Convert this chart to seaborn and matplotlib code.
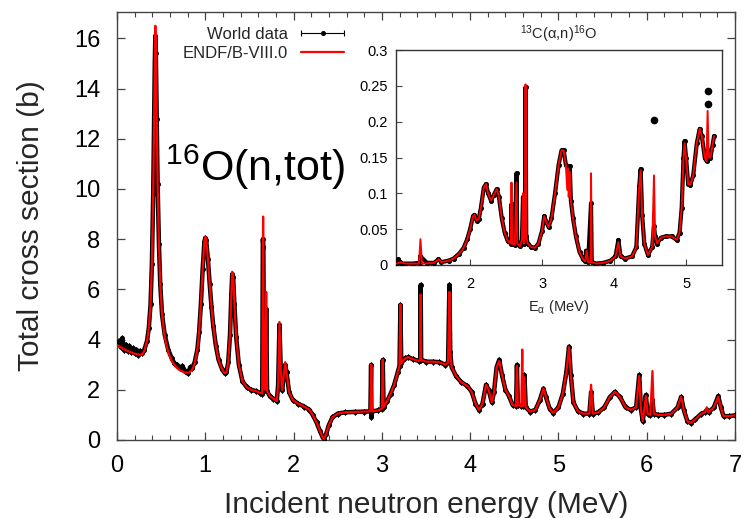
import matplotlib
matplotlib.use("Agg")
import matplotlib.pyplot as plt
import seaborn as sns
import numpy as np
from matplotlib.container import ErrorbarContainer
from matplotlib.legend_handler import HandlerErrorbar

# ---------------- main panel: 16O(n,tot) ----------------
endf_E = [0.00, 0.05, 0.10, 0.15, 0.20, 0.25, 0.28, 0.31, 0.34, 0.36, 0.38, 0.395, 0.41, 0.42, 0.428,
          0.434, 0.44, 0.45, 0.46, 0.475, 0.49, 0.51, 0.54, 0.58, 0.62, 0.67, 0.72, 0.77, 0.81, 0.85,
          0.88, 0.91, 0.93, 0.95, 0.97, 0.99, 1.00, 1.01, 1.03, 1.05, 1.07, 1.09, 1.12, 1.15, 1.19,
          1.22, 1.24, 1.26, 1.28, 1.295, 1.305, 1.315, 1.33, 1.35, 1.38, 1.42, 1.47, 1.52, 1.57, 1.62,
          1.645, 1.655, 1.665, 1.68, 1.69, 1.70, 1.73, 1.77, 1.81, 1.825, 1.84, 1.855, 1.87, 1.89, 1.905,
          1.92, 1.95, 1.99, 2.05, 2.12, 2.18, 2.22, 2.26, 2.30, 2.33, 2.345, 2.37, 2.40, 2.44, 2.50,
          2.58, 2.70, 2.80, 2.87, 2.88, 2.89, 2.96, 3.00, 3.01, 3.02, 3.06, 3.10, 3.14, 3.18, 3.20,
          3.21, 3.22, 3.26, 3.30, 3.35, 3.42, 3.435, 3.44, 3.445, 3.50, 3.58, 3.65, 3.72, 3.75, 3.765,
          3.775, 3.79, 3.84, 3.90, 3.97, 4.02, 4.06, 4.10, 4.14, 4.18, 4.21, 4.245, 4.27, 4.30, 4.33,
          4.36, 4.40, 4.44, 4.48, 4.52, 4.53, 4.54, 4.58, 4.59, 4.60, 4.615, 4.63, 4.68, 4.74, 4.79,
          4.83, 4.86, 4.90, 4.94, 5.00, 5.05, 5.09, 5.12, 5.14, 5.17, 5.22, 5.28, 5.35, 5.37, 5.39,
          5.45, 5.52, 5.58, 5.64, 5.70, 5.76, 5.82, 5.88, 5.915, 5.935, 5.955, 5.975, 5.99, 6.01, 6.04,
          6.065, 6.08, 6.13, 6.20, 6.28, 6.35, 6.39, 6.42, 6.46, 6.50, 6.55, 6.62, 6.66, 6.68, 6.70,
          6.76, 6.81, 6.84, 6.87, 6.93, 7.00]
endf_xs = [3.78, 3.68, 3.58, 3.50, 3.44, 3.40, 3.40, 3.55, 3.95, 4.45, 5.4, 7.0, 9.8, 12.6, 15.0,
           16.5, 15.6, 12.8, 10.2, 7.8, 6.2, 5.0, 4.1, 3.5, 3.15, 2.9, 2.76, 2.68, 2.68, 2.78,
           3.05, 3.6, 4.3, 5.4, 6.8, 7.9, 8.1, 8.0, 7.2, 6.2, 5.3, 4.55, 3.75, 3.2, 2.82,
           2.66, 2.7, 3.1, 4.2, 5.8, 6.7, 6.6, 5.4, 4.1, 3.0, 2.35, 2.1, 2.0, 1.95, 1.88,
           1.85, 8.9, 2.1, 2.0, 5.9, 1.95, 1.75, 1.65, 1.55, 2.2, 4.7, 2.8, 2.0, 2.6, 3.1,
           2.7, 1.9, 1.6, 1.45, 1.33, 1.2, 0.98, 0.7, 0.35, 0.1, 0.05, 0.25, 0.6, 0.9, 1.05,
           1.1, 1.12, 1.13, 1.14, 3.0, 1.14, 1.18, 1.25, 3.2, 1.3, 1.55, 1.85, 2.2, 2.7, 2.95,
           5.4, 3.05, 3.25, 3.3, 3.22, 3.15, 3.2, 5.8, 3.2, 3.12, 3.12, 3.1, 3.0, 3.1, 5.9,
           3.5, 2.9, 2.55, 2.3, 2.15, 1.9, 1.45, 1.2, 1.45, 2.2, 2.0, 1.5, 1.9, 2.9, 3.15,
           2.6, 2.0, 1.75, 1.4, 1.35, 2.95, 1.4, 1.35, 3.6, 1.35, 2.5, 1.3, 1.13, 1.2, 1.6,
           2.05, 1.7, 1.25, 1.08, 1.3, 1.85, 2.7, 3.7, 2.6, 1.5, 1.15, 1.05, 1.05, 2.2, 1.05,
           1.1, 1.3, 1.7, 1.92, 1.7, 1.3, 1.2, 1.3, 2.55, 1.2, 0.75, 1.3, 1.75, 1.05, 1.0,
           2.75, 1.05, 1.0, 1.0, 1.05, 1.3, 1.72, 1.2, 0.75, 0.68, 0.82, 1.05, 1.1, 1.3, 1.1,
           1.3, 1.72, 1.3, 0.95, 0.95, 0.98]

world_E = [0.00, 0.02, 0.04, 0.06, 0.08, 0.10, 0.12, 0.14, 0.16, 0.18, 0.20, 0.22, 0.24, 0.26, 0.28,
           0.31, 0.34, 0.36, 0.38, 0.395, 0.41, 0.42, 0.428, 0.434, 0.44, 0.45, 0.46, 0.475, 0.49,
           0.51, 0.54, 0.58, 0.62, 0.65, 0.68, 0.71, 0.74, 0.77, 0.80, 0.83, 0.85, 0.88, 0.91, 0.93,
           0.95, 0.97, 0.99, 1.00, 1.01, 1.03, 1.05, 1.07, 1.09, 1.12, 1.15, 1.19, 1.22, 1.24, 1.26,
           1.28, 1.295, 1.305, 1.315, 1.33, 1.35, 1.38, 1.42, 1.47, 1.52, 1.57, 1.62, 1.645, 1.652,
           1.658, 1.665, 1.68, 1.69, 1.70, 1.73, 1.77, 1.81, 1.825, 1.84, 1.855, 1.87, 1.89, 1.905,
           1.92, 1.95, 1.99, 2.05, 2.12, 2.18, 2.22, 2.26, 2.30, 2.33, 2.345, 2.37, 2.40, 2.44, 2.50,
           2.58, 2.70, 2.80, 2.87, 2.878, 2.882, 2.89, 2.96, 3.00, 3.01, 3.02, 3.06, 3.10, 3.14, 3.18,
           3.20, 3.21, 3.22, 3.26, 3.30, 3.35, 3.42, 3.435, 3.44, 3.445, 3.50, 3.58, 3.65, 3.72, 3.75,
           3.765, 3.775, 3.79, 3.84, 3.90, 3.97, 4.02, 4.06, 4.10, 4.14, 4.18, 4.21, 4.245, 4.27, 4.30,
           4.33, 4.36, 4.40, 4.44, 4.48, 4.52, 4.53, 4.54, 4.58, 4.60, 4.615, 4.63, 4.68, 4.74, 4.79,
           4.83, 4.86, 4.90, 4.94, 5.00, 5.05, 5.09, 5.12, 5.14, 5.17, 5.22, 5.28, 5.35, 5.37, 5.39,
           5.45, 5.52, 5.58, 5.64, 5.70, 5.76, 5.82, 5.88, 5.915, 5.935, 5.955, 5.975, 5.99, 6.01, 6.04,
           6.065, 6.08, 6.13, 6.20, 6.28, 6.35, 6.39, 6.42, 6.46, 6.50, 6.55, 6.62, 6.66, 6.68, 6.70,
           6.76, 6.81, 6.84, 6.87, 6.93, 7.00]
world_xs = [3.85, 3.95, 3.70, 4.05, 3.60, 3.80, 3.55, 3.75, 3.50, 3.65, 3.45, 3.60, 3.40, 3.55, 3.45,
            3.60, 3.95, 4.45, 5.4, 7.0, 9.8, 12.6, 15.0, 16.1, 15.4, 12.8, 10.2, 7.8, 6.2,
            5.0, 4.2, 3.6, 3.25, 3.05, 3.0, 2.85, 2.95, 2.75, 2.65, 2.9, 2.85, 3.1, 3.6, 4.3,
            5.4, 6.8, 7.9, 8.05, 7.95, 7.2, 6.2, 5.3, 4.55, 3.75, 3.2, 2.82, 2.66, 2.7, 3.1,
            4.2, 5.8, 6.6, 6.5, 5.4, 4.1, 3.0, 2.35, 2.1, 2.0, 1.95, 1.88, 1.85, 8.0,
            7.7, 2.1, 2.0, 5.2, 1.95, 1.75, 1.65, 1.55, 2.2, 4.6, 2.8, 2.0, 2.6, 3.0,
            2.7, 1.9, 1.6, 1.45, 1.33, 1.2, 0.98, 0.7, 0.35, 0.1, 0.05, 0.25, 0.6, 0.9, 1.05,
            1.1, 1.12, 1.13, 1.14, 2.99, 0.93, 1.14, 1.18, 1.25, 3.19, 1.3, 1.55, 1.85, 2.2, 2.7,
            2.95, 5.38, 3.05, 3.25, 3.3, 3.22, 3.15, 3.2, 6.18, 3.2, 3.12, 3.12, 3.1, 3.0, 3.1,
            6.18, 3.5, 2.9, 2.55, 2.3, 2.15, 1.9, 1.45, 1.2, 1.45, 2.2, 2.0, 1.5, 1.9, 2.9,
            3.2, 2.6, 2.0, 1.75, 1.4, 1.35, 2.99, 1.4, 1.35, 1.35, 2.59, 1.3, 1.13, 1.2, 1.6,
            2.05, 1.7, 1.25, 1.08, 1.3, 1.85, 2.7, 3.72, 2.6, 1.5, 1.15, 1.05, 1.05, 1.9, 1.05,
            1.1, 1.3, 1.7, 1.92, 1.7, 1.3, 1.2, 1.3, 2.59, 1.2, 0.75, 1.3, 1.79, 1.05, 1.0,
            1.6, 1.05, 1.0, 1.0, 1.05, 1.3, 1.72, 1.2, 0.75, 0.68, 0.82, 1.05, 1.1, 1.2, 1.1,
            1.3, 1.75, 1.3, 0.95, 0.95, 0.98]

# ---------------- inset: 13C(alpha,n)16O ----------------
in_endf_E = [0.98, 1.03, 1.10, 1.29, 1.31, 1.33, 1.50, 1.56, 1.60, 1.70, 1.77, 1.85, 1.91, 1.96,
             2.00, 2.04, 2.06, 2.09, 2.12, 2.15, 2.19, 2.22, 2.25, 2.29, 2.33, 2.37, 2.40, 2.44,
             2.48, 2.52, 2.565, 2.575, 2.585, 2.62, 2.645, 2.655, 2.69, 2.72, 2.735, 2.745, 2.76,
             2.77, 2.78, 2.80, 2.85, 2.90, 2.95, 3.00, 3.03, 3.06, 3.09, 3.13, 3.18, 3.23, 3.27,
             3.30, 3.33, 3.35, 3.36, 3.37, 3.385, 3.40, 3.43, 3.47, 3.52, 3.57, 3.60, 3.62, 3.64,
             3.675, 3.68, 3.69, 3.75, 3.85, 3.95, 4.02, 4.06, 4.09, 4.15, 4.25, 4.31, 4.35, 4.37,
             4.39, 4.42, 4.47, 4.53, 4.555, 4.57, 4.60, 4.65, 4.72, 4.80, 4.87, 4.91, 4.94, 4.965,
             4.98, 5.00, 5.03, 5.06, 5.10, 5.15, 5.19, 5.22, 5.26, 5.285, 5.30, 5.315, 5.34, 5.37,
             5.39]
in_endf_xs = [0.002, 0.004, 0.002, 0.002, 0.036, 0.002, 0.003, 0.008, 0.004, 0.006, 0.009, 0.016,
              0.024, 0.036, 0.050, 0.068, 0.070, 0.062, 0.064, 0.080, 0.108, 0.113, 0.100, 0.090,
              0.098, 0.106, 0.095, 0.065, 0.045, 0.034, 0.030, 0.115, 0.030, 0.028, 0.115, 0.030,
              0.026, 0.035, 0.100, 0.030, 0.040, 0.252, 0.040, 0.030, 0.025, 0.024, 0.030, 0.048,
              0.068, 0.060, 0.053, 0.065, 0.100, 0.140, 0.160, 0.160, 0.140, 0.105, 0.135, 0.095,
              0.130, 0.090, 0.065, 0.040, 0.018, 0.008, 0.005, 0.020, 0.004, 0.004, 0.128, 0.004,
              0.002, 0.003, 0.006, 0.012, 0.032, 0.012, 0.009, 0.012, 0.025, 0.110, 0.132, 0.070,
              0.030, 0.014, 0.025, 0.125, 0.040, 0.030, 0.038, 0.040, 0.040, 0.035, 0.045, 0.080,
              0.150, 0.170, 0.150, 0.113, 0.112, 0.125, 0.170, 0.190, 0.180, 0.150, 0.145, 0.215,
              0.150, 0.150, 0.168, 0.180]

in_world_E = [0.98, 1.00, 1.03, 1.06, 1.10, 1.20, 1.30, 1.31, 1.40, 1.50, 1.56, 1.60, 1.70, 1.77,
              1.85, 1.91, 1.96, 2.00, 2.04, 2.06, 2.09, 2.12, 2.15, 2.19, 2.22, 2.25, 2.29, 2.33,
              2.37, 2.40, 2.44, 2.48, 2.52, 2.565, 2.575, 2.585, 2.62, 2.645, 2.655, 2.69, 2.72,
              2.735, 2.745, 2.76, 2.77, 2.78, 2.80, 2.85, 2.90, 2.95, 3.00, 3.03, 3.06, 3.09, 3.13,
              3.18, 3.23, 3.27, 3.30, 3.33, 3.36, 3.385, 3.40, 3.43, 3.47, 3.52, 3.57, 3.60, 3.61,
              3.64, 3.68, 3.69, 3.75, 3.85, 3.95, 4.02, 4.06, 4.09, 4.15, 4.25, 4.31, 4.35, 4.37,
              4.39, 4.42, 4.47, 4.53, 4.555, 4.57, 4.60, 4.65, 4.72, 4.80, 4.87, 4.91, 4.94,
              4.965, 4.98, 5.00, 5.03, 5.06, 5.10, 5.15, 5.19, 5.22, 5.26, 5.285, 5.30,
              5.315, 5.34, 5.37, 5.39]
in_world_xs = [0.003, 0.008, 0.004, 0.002, 0.002, 0.002, 0.003, 0.012, 0.003, 0.003, 0.008, 0.004,
               0.006, 0.009, 0.016, 0.024, 0.036, 0.050, 0.068, 0.070, 0.062, 0.064, 0.080, 0.108,
               0.113, 0.100, 0.090, 0.098, 0.106, 0.095, 0.065, 0.045, 0.034, 0.030, 0.085, 0.030,
               0.028, 0.128, 0.030, 0.026, 0.035, 0.095, 0.030, 0.040, 0.248, 0.040, 0.030, 0.025,
               0.024, 0.030, 0.048, 0.068, 0.060, 0.053, 0.065, 0.100, 0.140, 0.160, 0.160, 0.140,
               0.135, 0.138, 0.090, 0.065, 0.040, 0.018, 0.008, 0.005, 0.020, 0.004, 0.086, 0.004,
               0.002, 0.003, 0.006, 0.012, 0.035, 0.012, 0.009, 0.012, 0.025, 0.110, 0.134, 0.070,
               0.030, 0.014, 0.025, 0.055, 0.040, 0.030, 0.038, 0.040, 0.040, 0.035, 0.045,
               0.080, 0.150, 0.173, 0.150, 0.113, 0.112, 0.125, 0.170, 0.190, 0.180, 0.150, 0.145,
               0.160, 0.150, 0.150, 0.168, 0.180]
# isolated world-data points (outliers) in the inset
in_outlier_E = [4.556, 5.30, 5.301]
in_outlier_xs = [0.203, 0.225, 0.243]

main_xticks = [0, 1, 2, 3, 4, 5, 6, 7]
main_yticks = [0, 2, 4, 6, 8, 10, 12, 14, 16]
inset_xticks = [2, 3, 4, 5]
inset_yticks = [0, 0.05, 0.1, 0.15, 0.2, 0.25, 0.3]
inset_ylabels = ["0", "0.05", "0.1", "0.15", "0.2", "0.25", "0.3"]

sns.set_style("ticks")
plt.rcParams["font.family"] = ["Liberation Sans", "DejaVu Sans"]
plt.rcParams["mathtext.fontset"] = "custom"
plt.rcParams["mathtext.rm"] = "Liberation Sans"
plt.rcParams["mathtext.it"] = "Liberation Sans:italic"
plt.rcParams["mathtext.bf"] = "Liberation Sans:bold"

fig = plt.figure(figsize=(7.48, 5.18), dpi=100)
W, H = 748, 518
ax = fig.add_axes([117 / W, 1 - 440 / H, (735 - 117) / W, (440 - 12) / H])

spine_col = "#444444"
# world data: dense band + points
ax.plot(world_E, world_xs, color="black", lw=3.2, zorder=2, solid_joinstyle="round")
ax.errorbar(world_E, world_xs, xerr=0.0, fmt="o", ms=2.6, color="black",
            ecolor="black", elinewidth=0.8, capsize=2.2, capthick=0.8,
            label="World data", zorder=3)
sns.lineplot(x=endf_E, y=endf_xs, ax=ax, color="#ff0000", lw=1.6, sort=False,
             estimator=None, label="ENDF/B-VIII.0", zorder=4)

ax.set_xlim(0, 7)
ax.set_ylim(0, 17.05)
ax.set_xticks(main_xticks)
ax.set_yticks(main_yticks)
ax.set_xticks(np.arange(0, 7.01, 0.2), minor=True)
ax.tick_params(axis="both", which="both", direction="in", top=True, right=True,
               colors=spine_col, labelcolor="black")
ax.tick_params(axis="both", which="major", length=6, width=0.9, labelsize=17)
ax.tick_params(axis="x", which="major", pad=11)
ax.tick_params(axis="y", which="major", pad=12)
ax.tick_params(axis="x", which="minor", length=3.5, width=0.8)
for s in ax.spines.values():
    s.set_color(spine_col)
    s.set_linewidth(1.0)
ax.set_xlabel("Incident neutron energy (MeV)", fontsize=21.5, labelpad=10)
ax.set_ylabel("Total cross section (b)", fontsize=21.5, labelpad=21)

ax.text(0.54, 10.3, r"$^{16}$O(n,tot)", fontsize=31, va="baseline", ha="left", color="black")

handles, labels = ax.get_legend_handles_labels()
order = [labels.index("World data"), labels.index("ENDF/B-VIII.0")]
ax.legend([handles[i] for i in order], [labels[i] for i in order],
          loc="upper right", bbox_to_anchor=(356 / W, 1 - 15 / H),
          bbox_transform=fig.transFigure, frameon=False, fontsize=12,
          markerfirst=False, handlelength=2.6, handletextpad=0.8,
          labelspacing=0.25, borderpad=0.2,
          handler_map={ErrorbarContainer: HandlerErrorbar(xerr_size=1.3)})

# ---------------- inset ----------------
ia = fig.add_axes([396 / W, 1 - 265 / H, (722 - 396) / W, (265 - 50) / H])
ia.set_facecolor("white")
ia.plot(in_world_E, in_world_xs, color="black", lw=3.0, zorder=2, solid_joinstyle="round")
ia.plot(in_world_E, in_world_xs, "o", color="black", ms=2.6, zorder=3)
ia.plot(in_outlier_E, in_outlier_xs, "o", color="black", ms=4.5, zorder=3)
sns.lineplot(x=in_endf_E, y=in_endf_xs, ax=ia, color="#ff0000", lw=1.4, sort=False,
             estimator=None, legend=False, zorder=4)
ia.set_xlim(0.97, 5.5)
ia.set_ylim(0, 0.3)
ia.set_xticks(inset_xticks)
ia.set_yticks(inset_yticks)
ia.set_yticklabels(inset_ylabels)
ia.tick_params(axis="both", which="major", direction="in", length=4, width=0.8,
               labelsize=10.5, colors=spine_col, labelcolor="black")
ia.tick_params(axis="x", pad=9)
ia.tick_params(axis="y", pad=6)
for s in ia.spines.values():
    s.set_color("#333333")
    s.set_linewidth(1.0)
ia.set_xlabel(r"E$_{\mathrm{α}}$ (MeV)", fontsize=10.5, labelpad=5)
ia.set_ylabel("")
ia.set_title(r"$^{13}$C(α,n)$^{16}$O", fontsize=10.5, pad=8)

fig.savefig("out.png", dpi=100)
